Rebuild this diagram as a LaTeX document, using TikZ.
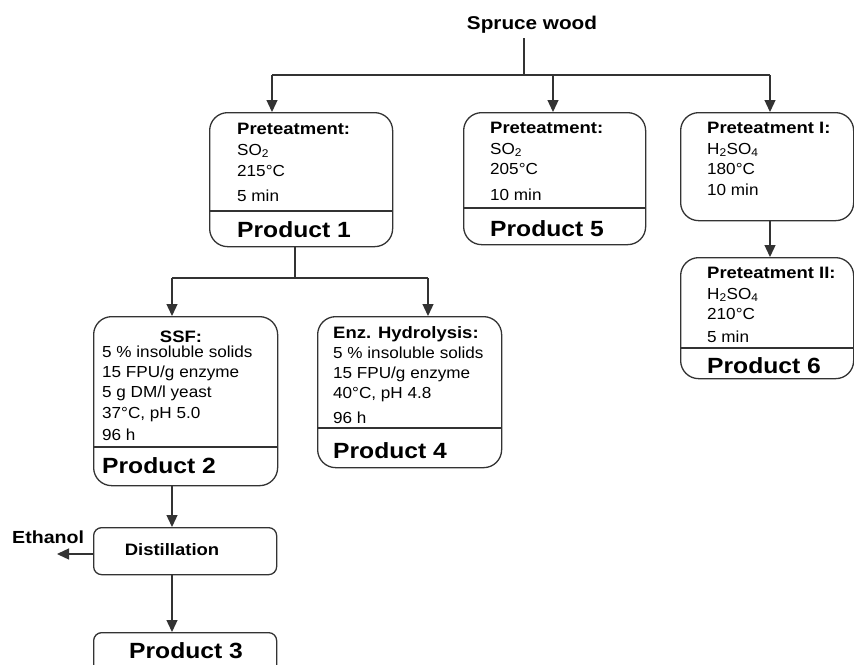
\documentclass[tikz,border=0pt]{standalone}
\usepackage{fontspec}
\newfontfamily\rf{Liberation Sans}[FakeStretch=1.07]
\newfontfamily\hdf{Liberation Sans}[FakeStretch=1.12]
\usetikzlibrary{arrows.meta}
\tikzset{
 box/.style={draw=black!80, line width=1.3pt, rounded corners=18pt, anchor=north west, inner sep=0pt, fill=white},
 sbox/.style={box, rounded corners=8pt},
 ln/.style={draw=black!80, line width=1.3pt},
 arr/.style={ln, -{Triangle[width=11pt,length=12pt]}},
 tx/.style={anchor=base west, inner sep=0pt, font=\rf\fontsize{16}{18}\selectfont},
 hd/.style={anchor=base west, inner sep=0pt, font=\hdf\bfseries\fontsize{16.5}{18}\selectfont},
 pr/.style={anchor=base west, inner sep=0pt, font=\hdf\bfseries\fontsize{22}{24}\selectfont},
}
\begin{document}
\begin{tikzpicture}[x=1pt,y=-1pt]
\useasboundingbox (0,0) rectangle (854,664);
\clip (0,0) rectangle (854,664);
% title
\node[hd, anchor=base, font=\hdf\bfseries\fontsize{18.5}{20}\selectfont] (spruce) at (532,29) {Spruce wood};
% boxes
\node[box, minimum width=183pt, minimum height=134pt] (p1) at (209,112) {};
\node[box, minimum width=182pt, minimum height=132pt] (p5) at (463,112) {};
\node[box, minimum width=173pt, minimum height=108pt] (pI) at (680,112) {};
\node[box, minimum width=173pt, minimum height=121pt] (pII) at (680,257) {};
\node[box, minimum width=184pt, minimum height=169pt] (ssf) at (93,316) {};
\node[box, minimum width=184pt, minimum height=151pt] (enz) at (317,316) {};
\node[sbox, minimum width=183pt, minimum height=47pt] (dist) at (93,527) {};
\node[sbox, minimum width=183pt, minimum height=60pt] (p3) at (93,632) {};
% dividers
\draw[ln] (p1.west |- 0,211) -- (p1.east |- 0,211);
\draw[ln] (p5.west |- 0,208) -- (p5.east |- 0,208);
\draw[ln] (pII.west |- 0,348) -- (pII.east |- 0,348);
\draw[ln] (ssf.west |- 0,447) -- (ssf.east |- 0,447);
\draw[ln] (enz.west |- 0,428) -- (enz.east |- 0,428);
% connectors
\coordinate (j0) at (524,75);
\coordinate (jL) at (272,75);
\coordinate (jM) at (553,75);
\coordinate (jR) at (770,75);
\draw[ln] ([yshift=-5pt]spruce.south -| j0) -- (j0);
\draw[ln] (jL) -- (jR);
\draw[arr] (jL) -- (jL |- p1.north);
\draw[arr] (jM) -- (jM |- p5.north);
\draw[arr] (jR) -- (jR |- pI.north);
\draw[arr] (jR |- pI.south) -- (jR |- pII.north);
\coordinate (j2) at (295,278);
\coordinate (j2L) at (172,278);
\coordinate (j2R) at (428,278);
\draw[ln] (j2 |- p1.south) -- (j2);
\draw[ln] (j2L) -- (j2R);
\draw[arr] (j2L) -- (j2L |- ssf.north);
\draw[arr] (j2R) -- (j2R |- enz.north);
\draw[arr] (j2L |- ssf.south) -- (j2L |- dist.north);
\draw[arr] (j2L |- dist.south) -- (j2L |- p3.north);
\coordinate (eth) at (57,554);
\draw[arr] (dist.west |- eth) -- (eth);
% box 1
\node[hd] (a1) at (237,134) {Preteatment:};
\node[tx] (a2) at (237,155) {SO\textsubscript{2}};
\node[tx] (a3) at (237,176) {215°C};
\node[tx] (a4) at (237,201) {5 min};
\node[pr] (a5) at (237,237) {Product 1};
% box 5
\node[hd] (b1) at (490,133) {Preteatment:};
\node[tx] (b2) at (490,154) {SO\textsubscript{2}};
\node[tx] (b3) at (490,174) {205°C};
\node[tx] (b4) at (490,200) {10 min};
\node[pr] (b5) at (490,236) {Product 5};
% pre I
\node[hd] (c1) at (707,133) {Preteatment I:};
\node[tx] (c2) at (707,154) {H\textsubscript{2}SO\textsubscript{4}};
\node[tx] (c3) at (707,174) {180°C};
\node[tx] (c4) at (707,195) {10 min};
% pre II
\node[hd] (d1) at (707,278) {Preteatment II:};
\node[tx] (d2) at (707,299) {H\textsubscript{2}SO\textsubscript{4}};
\node[tx] (d3) at (707,319) {210°C};
\node[tx] (d4) at (707,342) {5 min};
\node[pr] (d5) at (707,373) {Product 6};
% SSF
\node[hd, anchor=base] (e0) at (181,342) {SSF:};
\node[tx] (e1) at (102,357) {5 \% insoluble solids};
\node[tx] (e2) at (102,377) {15 FPU/g enzyme};
\node[tx] (e3) at (102,397) {5 g DM/l yeast};
\node[tx] (e4) at (102,418) {37°C, pH 5.0};
\node[tx] (e5) at (102,440) {96 h};
\node[pr] (e6) at (102,473) {Product 2};
% Enz
\node[hd] (f0) at (333,338) {Enz. Hydrolysis:};
\node[tx] (f1) at (333,358) {5 \% insoluble solids};
\node[tx] (f2) at (333,378) {15 FPU/g enzyme};
\node[tx] (f3) at (333,398) {40°C, pH 4.8};
\node[tx] (f4) at (333,423) {96 h};
\node[pr] (f5) at (333,458) {Product 4};
% distillation etc
\node[hd, anchor=base] (g1) at (172,555) {Distillation};
\node[hd, font=\hdf\bfseries\fontsize{17.5}{19}\selectfont] (g2) at (12,543) {Ethanol};
\node[pr, anchor=base] (g3) at (186,658) {Product 3};
\end{tikzpicture}
\end{document}
